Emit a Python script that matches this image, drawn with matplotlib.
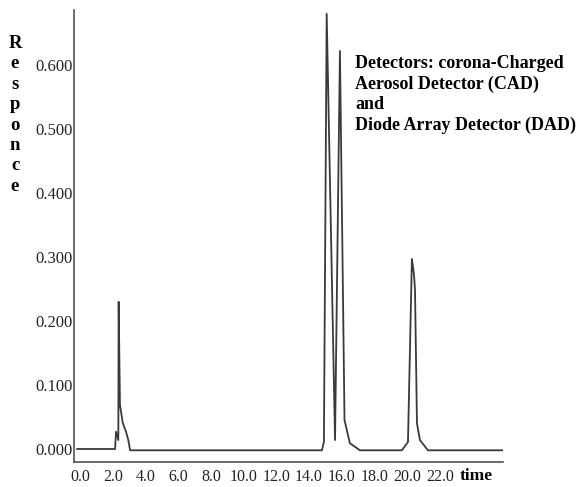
import matplotlib.pyplot as plt

# Chromatogram trace (time, response)
time = [-0.18, 2.14, 2.20, 2.34, 2.36, 2.44, 2.61, 2.81, 2.95, 3.06,
        14.79, 14.91, 15.08, 15.59, 15.89, 16.17, 16.50, 17.11,
        19.68, 20.05, 20.29, 20.42, 20.48, 20.60, 20.78, 21.27, 25.86]
response = [0.000, 0.000, 0.027, 0.014, 0.230, 0.069, 0.041, 0.027, 0.014, -0.002,
            -0.002, 0.011, 0.680, 0.014, 0.622, 0.045, 0.009, -0.002,
            -0.002, 0.011, 0.297, 0.272, 0.248, 0.040, 0.014, -0.002, -0.002]

x_ticks = [0, 2, 4, 6, 8, 10, 12, 14, 16, 18, 20, 22]
x_labels = ["0.0", "2.0", "4.0", "6.0", "8.0", "10.0", "12.0",
            "14.0", "16.0", "18.0", "20.0", "22.0"]
y_ticks = [0.0, 0.1, 0.2, 0.3, 0.4, 0.5, 0.6]
y_labels = ["0.000", "0.100", "0.200", "0.300", "0.400", "0.500", "0.600"]

plt.rcParams["font.family"] = ["Liberation Serif", "DejaVu Serif"]

fig = plt.figure(figsize=(5.81, 4.87), dpi=100)
ax = fig.add_axes([74/581, 25/487, 429/581, 452/487])

ax.plot(time, response, color="#3a3a3a", linewidth=1.3)

ax.set_xlim(-0.37, 25.86)
ax.set_ylim(-0.0203, 0.686)

ax.set_xticks(x_ticks)
ax.set_xticklabels(x_labels, fontsize=11.5, color="#222222")
ax.set_yticks(y_ticks)
ax.set_yticklabels(y_labels, fontsize=12, color="#222222")
ax.tick_params(axis="x", length=0, pad=5)
ax.tick_params(axis="y", length=0, pad=1)

for s in ["top", "right"]:
    ax.spines[s].set_visible(False)
for s in ["left", "bottom"]:
    ax.spines[s].set_color("#444444")
    ax.spines[s].set_linewidth(1.1)

#Axis titles placed like the original
fig.text(460/581, 1 - 476/487, "time", fontsize=12.5, fontweight="bold",
         ha="left", va="center")
fig.text(15/581, 1 - 35/487, "\n".join("Responce"), fontsize=13.5,
         fontweight="bold", ha="center", va="top", linespacing=1.26,
         multialignment="center")

#Detector note
fig.text(355/581, 1 - 55/487,
         "Detectors: corona-Charged\nAerosol Detector (CAD)\nand\nDiode Array Detector (DAD)",
         fontsize=13, fontweight="bold", ha="left", va="top", linespacing=1.26)

fig.savefig("out.png", dpi=100)
